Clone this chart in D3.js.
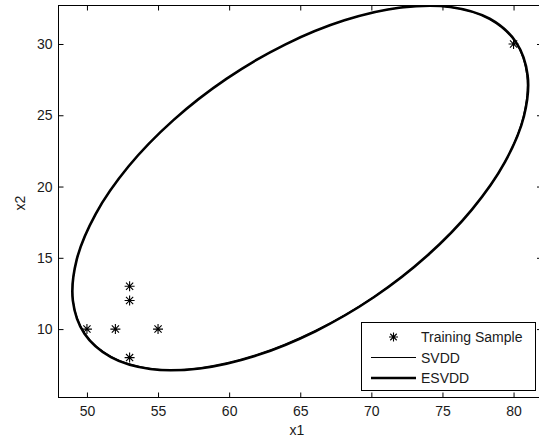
<!DOCTYPE html>
<html>
<head>
<meta charset="utf-8">
<script src="https://cdn.jsdelivr.net/npm/d3@7"></script>
<style>
  html, body { margin: 0; padding: 0; background: #fff; }
  svg { display: block; }
  text { font-family: "Liberation Sans", Arial, sans-serif; fill: #1a1a1a; }
</style>
</head>
<body>
<svg id="chart" width="539" height="438"></svg>
<script>
// ---- data ----
const sampleX = [50, 52, 55, 53, 53, 53, 80];
const sampleY = [10, 10, 10, 8, 12, 13, 30];

// ESVDD boundary (thick)
const esvddX = [80.17, 78.32, 75.55, 72.07, 68.11, 63.93, 59.83, 56.08, 52.93, 50.62, 49.28, 49.01,
                49.83, 51.69, 54.45, 57.93, 61.89, 66.07, 70.17, 73.92, 77.07, 79.39, 80.73, 80.99];
const esvddY = [30.13, 31.77, 32.60, 32.56, 31.66, 29.96, 27.57, 24.66, 21.42, 18.09, 14.87, 12.00,
                9.67, 8.03, 7.20, 7.24, 8.14, 9.85, 12.23, 15.14, 18.38, 21.71, 24.93, 27.80];

// SVDD boundary (thin), almost coincident, slightly inside on the lower right
const svddX = [80.12, 78.28, 75.52, 72.05, 68.10, 63.93, 59.84, 56.09, 52.94, 50.63, 49.29, 49.03,
               49.86, 51.72, 54.48, 57.96, 61.93, 66.12, 70.24, 73.98, 77.10, 79.38, 80.68, 80.93];
const svddY = [30.13, 31.76, 32.58, 32.54, 31.65, 29.95, 27.57, 24.66, 21.42, 18.10, 14.88, 12.02,
               9.70, 8.07, 7.24, 7.28, 8.19, 9.92, 12.32, 15.22, 18.44, 21.74, 24.93, 27.78];

const xTicks = [50, 55, 60, 65, 70, 75, 80];
const yTicks = [10, 15, 20, 25, 30];
const legendLabels = ["Training Sample", "SVDD", "ESVDD"];
const xLabel = "x1";
const yLabel = "x2";

// ---- scales ----
const L = 58.5, R = 542, T = 5.5, B = 397.5;
const x = d3.scaleLinear().domain([48, 82]).range([L, R]);
const y = d3.scaleLinear().domain([5.2, 32.7]).range([B, T]);

const svg = d3.select("#chart");

svg.append("defs").append("clipPath").attr("id", "plotclip")
  .append("rect").attr("x", L).attr("y", T).attr("width", R - L).attr("height", B - T);

const plot = svg.append("g").attr("clip-path", "url(#plotclip)");

const closed = d3.line().x(d => x(d[0])).y(d => y(d[1])).curve(d3.curveCatmullRomClosed.alpha(0.5));

const svddPts = svddX.map((v, i) => [v, svddY[i]]);
const esvddPts = esvddX.map((v, i) => [v, esvddY[i]]);

plot.append("path").attr("d", closed(esvddPts))
  .attr("fill", "none").attr("stroke", "#000").attr("stroke-width", 2.6);
plot.append("path").attr("d", closed(svddPts))
  .attr("fill", "none").attr("stroke", "#000").attr("stroke-width", 1);

// star markers
function star(g, cx, cy, r) {
  const p = d3.path();
  p.moveTo(cx - r, cy); p.lineTo(cx + r, cy);
  p.moveTo(cx, cy - r); p.lineTo(cx, cy + r);
  const d = r * 0.72;
  p.moveTo(cx - d, cy - d); p.lineTo(cx + d, cy + d);
  p.moveTo(cx - d, cy + d); p.lineTo(cx + d, cy - d);
  g.append("path").attr("d", p.toString()).attr("stroke", "#000").attr("stroke-width", 1.1).attr("fill", "none");
}
sampleX.forEach((v, i) => star(plot, x(v), y(sampleY[i]), 5));

// ---- axes ----
const fontSize = 14;
const gx = svg.append("g").attr("transform", `translate(0,${B})`)
  .call(d3.axisBottom(x).tickValues(xTicks).tickSizeInner(-5).tickSizeOuter(0).tickPadding(9));
const gy = svg.append("g").attr("transform", `translate(${L},0)`)
  .call(d3.axisLeft(y).tickValues(yTicks).tickSizeInner(-5).tickSizeOuter(0).tickPadding(6));
const gxt = svg.append("g").attr("transform", `translate(0,${T})`)
  .call(d3.axisTop(x).tickValues(xTicks).tickSizeInner(-5).tickSizeOuter(0).tickFormat(""));
const gyr = svg.append("g").attr("transform", `translate(${R},0)`)
  .call(d3.axisRight(y).tickValues(yTicks).tickSizeInner(-5).tickSizeOuter(0).tickFormat(""));

[gx, gy, gxt, gyr].forEach(g => {
  g.select(".domain").remove();
  g.selectAll(".tick line").attr("stroke", "#000");
  g.selectAll("text").attr("font-size", fontSize).attr("font-family", "Liberation Sans, Arial, sans-serif").attr("fill", "#1a1a1a");
});

// axes box
svg.append("rect").attr("x", L).attr("y", T).attr("width", R - L).attr("height", B - T)
  .attr("fill", "none").attr("stroke", "#000").attr("stroke-width", 1);

// axis labels
svg.append("text").attr("x", 297).attr("y", 435).attr("text-anchor", "middle")
  .attr("font-size", fontSize).text(xLabel);
svg.append("text").attr("transform", "translate(25,203) rotate(-90)").attr("text-anchor", "middle")
  .attr("font-size", fontSize).text(yLabel);

// ---- legend ----
const lg = svg.append("g");
lg.append("rect").attr("x", 361.5).attr("y", 322.5).attr("width", 174).attr("height", 68)
  .attr("fill", "#fff").attr("stroke", "#000").attr("stroke-width", 1);
const rowY = [337, 357.5, 378];
star(lg, 393.5, rowY[0], 4.5);
lg.append("line").attr("x1", 371).attr("x2", 416).attr("y1", rowY[1]).attr("y2", rowY[1])
  .attr("stroke", "#000").attr("stroke-width", 1);
lg.append("line").attr("x1", 371).attr("x2", 416).attr("y1", rowY[2]).attr("y2", rowY[2])
  .attr("stroke", "#000").attr("stroke-width", 2.4);
legendLabels.forEach((t, i) => {
  lg.append("text").attr("x", 421).attr("y", rowY[i] + 5).attr("font-size", fontSize).text(t);
});
</script>
</body>
</html>
